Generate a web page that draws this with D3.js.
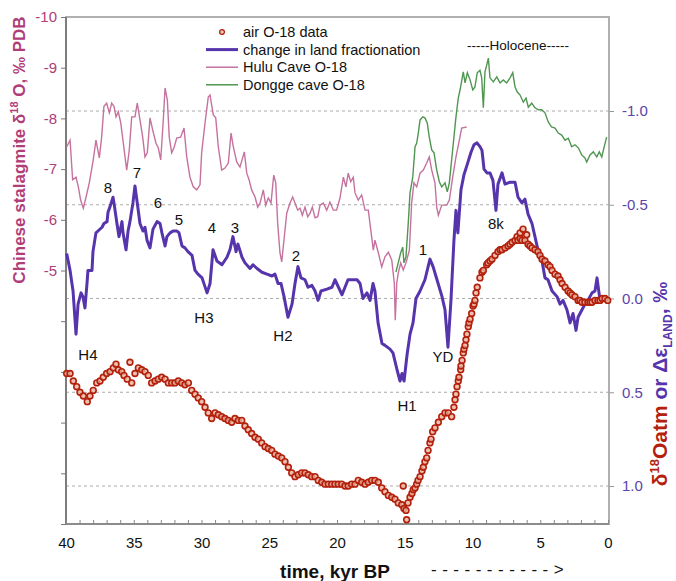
<!DOCTYPE html>
<html>
<head>
<meta charset="utf-8">
<script src="https://cdn.jsdelivr.net/npm/d3@7"></script>
<style>
  body { margin: 0; background: #fff; }
  text { font-family: "Liberation Sans", Arial, sans-serif; }
</style>
</head>
<body>
<div id="chart"></div>
<script>
/* [time kyr BP, delta epsilon land (right axis)] */
var landFrac = [
  [39.95,-0.24],[39.70,-0.15],[39.48,-0.04],[39.26,0.19],[39.11,0.03],[38.89,-0.03],[38.75,-0.01],[38.60,0.05],
  [38.45,-0.08],[38.38,-0.15],[38.08,-0.15],[38.01,-0.25],[37.79,-0.35],[37.64,-0.36],[37.34,-0.38],[37.20,-0.40],
  [36.97,-0.41],[36.90,-0.46],[36.75,-0.49],[36.53,-0.54],[36.46,-0.51],[36.24,-0.40],[36.09,-0.33],[35.87,-0.41],
  [35.79,-0.35],[35.57,-0.26],[35.42,-0.36],[35.28,-0.41],[35.06,-0.51],[34.91,-0.60],[34.76,-0.52],[34.54,-0.40],
  [34.32,-0.36],[34.17,-0.38],[34.02,-0.31],[33.80,-0.27],[33.58,-0.37],[33.43,-0.39],[33.28,-0.41],[33.06,-0.40],
  [32.92,-0.35],[32.69,-0.28],[32.55,-0.33],[32.32,-0.35],[32.10,-0.36],[31.81,-0.36],[31.66,-0.35],[31.44,-0.28],
  [31.22,-0.27],[31.00,-0.25],[30.70,-0.23],[30.48,-0.15],[30.26,-0.13],[29.96,-0.11],[29.59,-0.03],[29.37,-0.08],
  [29.15,-0.26],[28.86,-0.20],[28.49,-0.18],[28.12,-0.22],[27.90,-0.26],[27.68,-0.33],[27.45,-0.25],[27.31,-0.29],
  [27.01,-0.22],[26.79,-0.19],[26.42,-0.16],[26.20,-0.18],[25.90,-0.16],[25.54,-0.14],[25.17,-0.13],[24.80,-0.12],
  [24.58,-0.13],[24.35,-0.08],[24.13,-0.08],[23.91,-0.01],[23.62,0.10],[23.32,0.03],[23.10,-0.08],[22.88,-0.17],
  [22.66,-0.11],[22.36,-0.10],[22.14,-0.06],[21.85,-0.07],[21.62,-0.04],[21.40,0.01],[21.18,-0.04],[20.74,-0.05],
  [20.37,-0.06],[20.15,-0.10],[19.63,-0.02],[19.19,-0.10],[18.52,-0.10],[18.30,-0.08],[18.08,0.00],[17.79,-0.03],
  [17.56,0.01],[17.34,-0.08],[17.20,-0.04],[16.97,0.13],[16.68,0.24],[16.46,0.25],[16.09,0.27],[15.87,0.29],
  [15.57,0.38],[15.35,0.44],[15.20,0.40],[15.05,0.44],[14.83,0.30],[14.61,0.19],[14.39,0.13],[14.17,0.00],
  [13.87,-0.04],[13.51,-0.10],[13.14,-0.21],[12.91,-0.17],[12.62,-0.10],[12.25,-0.01],[12.03,0.06],[11.81,0.26],
  [11.59,0.01],[11.37,-0.31],[11.22,-0.47],[11.08,-0.35],[10.85,-0.58],[10.63,-0.66],[10.41,-0.71],[10.11,-0.78],
  [9.89,-0.82],[9.67,-0.83],[9.45,-0.81],[9.30,-0.79],[9.15,-0.69],[8.93,-0.67],[8.71,-0.67],[8.49,-0.63],
  [8.27,-0.47],[8.12,-0.61],[7.82,-0.67],[7.60,-0.61],[7.23,-0.62],[6.86,-0.62],[6.64,-0.54],[6.35,-0.51],
  [6.13,-0.53],[5.90,-0.45],[5.61,-0.40],[5.39,-0.33],[5.17,-0.26],[4.87,-0.20],[4.65,-0.11],[4.43,-0.10],
  [4.13,-0.04],[3.76,-0.01],[3.54,0.03],[3.32,0.01],[3.03,0.06],[2.80,0.13],[2.58,0.08],[2.36,0.17],
  [2.21,0.10],[1.92,0.06],[1.70,0.03],[1.48,0.01],[1.18,-0.03],[0.96,-0.04],[0.81,-0.11],[0.59,0.01],[0.37,0.01]
]

/* [time, Hulu cave d18O (left axis)] */
var hulu = [
  [39.95,-7.44],[39.70,-7.57],[39.51,-6.79],[39.26,-6.84],[39.09,-6.65],[38.92,-6.39],[38.72,-6.23],[38.52,-6.45],
  [38.28,-6.73],[37.99,-7.18],[37.79,-7.57],[37.54,-7.22],[37.37,-7.63],[37.20,-8.24],[37.00,-8.30],[36.80,-8.11],
  [36.63,-8.30],[36.46,-8.24],[36.31,-8.03],[36.14,-8.13],[35.96,-7.91],[35.77,-7.51],[35.52,-6.98],[35.33,-7.38],
  [35.15,-8.03],[34.91,-8.03],[34.74,-8.30],[34.54,-7.97],[34.34,-7.63],[34.17,-7.24],[34.00,-7.32],[33.80,-8.01],
  [33.60,-7.77],[33.36,-7.51],[33.19,-7.42],[33.01,-7.18],[32.82,-7.97],[32.69,-8.60],[32.52,-8.36],[32.38,-7.63],
  [32.20,-7.32],[32.03,-7.42],[31.83,-7.61],[31.54,-7.63],[31.29,-7.81],[31.09,-7.24],[30.85,-6.84],[30.61,-6.65],
  [30.35,-6.59],[30.11,-6.69],[29.99,-7.32],[29.74,-7.91],[29.50,-8.42],[29.37,-8.46],[29.13,-8.07],[28.95,-8.01],
  [28.76,-7.44],[28.51,-6.98],[28.27,-7.02],[28.02,-7.12],[27.82,-7.71],[27.65,-7.44],[27.40,-7.14],[27.16,-7.04],
  [26.84,-7.34],[26.66,-6.92],[26.49,-6.79],[26.30,-6.59],[26.05,-6.45],[25.85,-6.25],[25.68,-6.33],[25.44,-6.59],
  [25.26,-6.29],[25.07,-6.43],[24.87,-6.33],[24.67,-6.88],[24.52,-6.73],[24.38,-5.94],[24.21,-5.35],[24.08,-5.17],
  [23.89,-5.66],[23.71,-6.13],[23.47,-6.33],[23.27,-6.45],[23.10,-6.33],[22.90,-6.19],[22.73,-6.23],[22.56,-6.09],
  [22.36,-6.25],[22.16,-6.06],[21.99,-6.13],[21.82,-6.25],[21.62,-6.04],[21.42,-6.06],[21.25,-6.29],[21.01,-6.33],
  [20.76,-6.19],[20.52,-6.35],[20.27,-6.19],[20.03,-6.19],[19.78,-6.43],[19.53,-6.84],[19.34,-6.65],[19.17,-6.92],
  [18.99,-6.75],[18.80,-6.84],[18.67,-6.53],[18.43,-6.39],[18.18,-6.49],[17.93,-6.19],[17.69,-6.19],[17.44,-5.66],
  [17.32,-5.40],[17.20,-5.60],[16.95,-5.35],[16.70,-5.07],[16.46,-5.27],[16.21,-5.36],[15.96,-5.21],[15.77,-4.75],
  [15.70,-4.02],[15.59,-4.75],[15.48,-4.95],[15.30,-5.15],[15.11,-5.01],[14.91,-5.15],[14.66,-5.40],[14.49,-6.33],
  [14.32,-6.73],[14.12,-6.65],[13.87,-6.92],[13.63,-6.98],[13.38,-7.12],[13.19,-7.24],[13.01,-6.98],[12.77,-6.73],
  [12.64,-6.25],[12.52,-6.09],[12.27,-6.29],[11.90,-6.29],[11.71,-6.39],[11.46,-6.84],[11.22,-7.24],[10.97,-7.57],
  [10.80,-7.81],[10.43,-7.83]
]

/* [time, Dongge cave d18O (left axis)] */
var dongge = [
  [15.65,-4.97],[15.48,-5.15],[15.30,-5.35],[15.15,-5.46],[15.06,-5.15],[14.91,-5.27],[14.74,-5.94],[14.61,-6.53],
  [14.41,-6.84],[14.24,-7.44],[14.12,-7.51],[14.00,-7.71],[13.87,-7.97],[13.67,-8.03],[13.51,-8.01],[13.34,-7.91],
  [13.19,-7.63],[13.01,-7.38],[12.84,-7.32],[12.64,-6.98],[12.45,-6.75],[12.27,-6.65],[12.03,-6.73],[11.86,-6.55],
  [11.71,-6.73],[11.54,-7.18],[11.37,-7.63],[11.22,-8.03],[11.05,-8.40],[10.92,-8.56],[10.68,-8.92],[10.55,-8.70],
  [10.38,-8.90],[10.18,-8.76],[9.98,-8.56],[9.82,-8.62],[9.65,-8.90],[9.45,-8.95],[9.32,-8.80],[9.20,-8.21],
  [9.08,-8.92],[8.95,-9.05],[8.83,-9.19],[8.71,-8.80],[8.46,-8.72],[8.21,-8.82],[7.97,-8.70],[7.73,-8.76],
  [7.48,-8.70],[7.23,-8.80],[7.03,-8.90],[6.86,-8.62],[6.69,-8.52],[6.49,-8.46],[6.25,-8.32],[6.05,-8.40],
  [5.88,-8.22],[5.63,-8.30],[5.39,-8.21],[5.14,-8.17],[4.89,-8.17],[4.65,-8.11],[4.41,-7.93],[4.16,-7.83],
  [3.91,-7.81],[3.67,-7.71],[3.42,-7.67],[3.17,-7.57],[2.93,-7.61],[2.68,-7.44],[2.44,-7.48],[2.19,-7.42],
  [1.94,-7.28],[1.70,-7.22],[1.57,-7.14],[1.33,-7.28],[1.08,-7.34],[0.83,-7.24],[0.64,-7.34],[0.46,-7.24],
  [0.30,-7.42],[0.10,-7.63]
]

/* [time, d18O atm (right axis)] */
var airO18 = [
  [39.95,0.40],[39.70,0.40],[39.46,0.44],[39.21,0.47],[38.97,0.50],[38.72,0.52],[38.43,0.55],[38.23,0.52],
  [37.99,0.49],[37.73,0.45],[37.49,0.44],[37.25,0.42],[37.00,0.40],[36.75,0.39],[36.51,0.37],[36.31,0.35],
  [36.14,0.38],[35.89,0.39],[35.72,0.41],[35.48,0.43],[35.28,0.34],[35.15,0.45],[34.91,0.40],[34.66,0.37],
  [34.41,0.38],[34.17,0.39],[33.93,0.41],[33.68,0.45],[33.43,0.44],[33.19,0.43],[32.94,0.42],[32.69,0.43],
  [32.45,0.45],[32.20,0.45],[31.96,0.45],[31.71,0.44],[31.46,0.45],[31.22,0.46],[30.97,0.45],[30.72,0.49],
  [30.48,0.51],[30.24,0.53],[29.99,0.55],[29.74,0.58],[29.50,0.61],[29.25,0.64],[29.00,0.61],[28.76,0.62],
  [28.51,0.63],[28.27,0.64],[28.02,0.65],[27.77,0.66],[27.53,0.64],[27.28,0.65],[27.03,0.65],[26.79,0.68],
  [26.55,0.70],[26.30,0.72],[26.05,0.74],[25.81,0.75],[25.56,0.77],[25.31,0.79],[25.07,0.80],[24.82,0.81],
  [24.58,0.83],[24.33,0.84],[24.08,0.85],[23.84,0.87],[23.59,0.90],[23.34,0.93],[23.10,0.95],[22.86,0.94],
  [22.61,0.93],[22.36,0.93],[22.12,0.94],[21.87,0.95],[21.62,0.95],[21.38,0.97],[21.13,0.98],[20.89,0.99],
  [20.64,0.99],[20.39,0.99],[20.15,0.99],[19.90,0.99],[19.65,0.99],[19.41,1.00],[19.17,1.00],[18.92,0.99],
  [18.67,0.99],[18.43,0.97],[18.18,0.98],[17.93,0.99],[17.69,0.98],[17.44,0.97],[17.20,0.97],[16.95,0.98],
  [16.70,1.01],[16.46,1.03],[16.21,1.05],[15.96,1.06],[15.72,1.07],[15.48,1.09],[15.22,1.10],[15.11,1.00],
  [15.06,1.12],[14.91,1.13],[14.86,1.18],[14.76,1.09],[14.61,1.06],[14.47,1.04],[14.37,1.02],[14.24,1.01],
  [14.12,0.99],[14.02,0.97],[13.87,0.95],[13.73,0.92],[13.63,0.90],[13.51,0.87],[13.38,0.85],[13.28,0.81],
  [13.14,0.77],[13.06,0.75],[12.94,0.71],[12.77,0.69],[12.52,0.66],[12.27,0.63],[12.03,0.61],[11.79,0.61],
  [11.54,0.63],[11.37,0.58],[11.29,0.54],[11.22,0.51],[11.14,0.47],[11.05,0.44],[11.00,0.42],[10.87,0.38],
  [10.85,0.36],[10.77,0.33],[10.68,0.29],[10.63,0.27],[10.55,0.25],[10.48,0.22],[10.41,0.19],[10.31,0.15],
  [10.26,0.13],[10.18,0.11],[10.06,0.08],[9.96,0.04],[9.89,0.03],[9.82,0.01],[9.74,-0.03],[9.65,-0.06],
  [9.45,-0.11],[9.30,-0.14],[9.20,-0.15],[8.95,-0.18],[8.86,-0.19],[8.71,-0.20],[8.56,-0.21],[8.34,-0.23],
  [8.12,-0.25],[7.97,-0.26],[7.82,-0.26],[7.60,-0.27],[7.38,-0.28],[7.23,-0.29],[7.08,-0.30],[6.86,-0.31],
  [6.71,-0.33],[6.64,-0.31],[6.49,-0.32],[6.49,-0.35],[6.35,-0.31],[6.27,-0.37],[6.13,-0.31],[6.00,-0.34],
  [5.90,-0.29],[5.76,-0.28],[5.61,-0.27],[5.39,-0.26],[5.17,-0.25],[5.02,-0.23],[4.87,-0.21],[4.65,-0.20],
  [4.43,-0.18],[4.28,-0.17],[4.13,-0.15],[3.91,-0.13],[3.69,-0.12],[3.54,-0.10],[3.39,-0.08],[3.17,-0.06],
  [2.95,-0.04],[2.80,-0.03],[2.66,-0.02],[2.44,-0.01],[2.21,0.01],[2.07,0.01],[1.92,0.02],[1.70,0.02],
  [1.48,0.02],[1.33,0.02],[1.18,0.02],[0.96,0.01],[0.74,0.01],[0.59,0.01],[0.44,0.00],[0.22,0.00],[0.02,0.01]
]

var xTicks = [40, 35, 30, 25, 20, 15, 10, 5, 0]
var leftTicks = [0, -1, -2, -3, -4, -5, -6, -7, -8, -9, -10]
var rightTicks = [-1.0, -0.5, 0.0, 0.5, 1.0]

/* event labels: name, time, right-axis value */
var eventNames = ["H4", "8", "7", "6", "5", "4", "3", "H3", "2", "H2", "1", "YD", "H1", "8k"]
var eventTimes = [38.38, 36.90, 34.76, 33.21, 31.66, 29.23, 27.53, 29.82, 23.03, 23.99, 13.65, 12.18, 14.83, 8.27]
var eventVals = [0.30, -0.59, -0.67, -0.51, -0.42, -0.38, -0.38, 0.10, -0.23, 0.20, -0.26, 0.31, 0.57, -0.40]

var legendNames = ["air O-18 data", "change in land fractionation", "Hulu Cave O-18", "Dongge cave O-18"]

var width = 676, height = 581
var plot = {left: 66, right: 609, top: 17, bottom: 524}

var pinkText = "#b03c78", hulColor = "#c6729e", greenColor = "#4f9650",
    purple = "#5634ac", purpleText = "#5a45a8", red = "#b3200c"

/* Scales */
var x = d3.scaleLinear().domain([40, 0]).range([plot.left, 608])
var yL = d3.scaleLinear().domain([0, -10]).range([plot.bottom, plot.top])
var yR = d3.scaleLinear().domain([-1, 1]).range([111, 486])

var svg = d3.select("#chart").append("svg")
  .attr("width", width)
  .attr("height", height)
  .style("background", "#fff")

/* dashed gridlines at right-axis ticks */
svg.append("g").selectAll("line")
  .data(rightTicks).enter()
  .append("line")
  .attr("x1", plot.left).attr("x2", plot.right)
  .attr("y1", d => yR(d)).attr("y2", d => yR(d))
  .attr("stroke", "#aaa")
  .attr("stroke-width", 1)
  .attr("stroke-dasharray", "3,3")

/* frame */
svg.append("rect")
  .attr("x", plot.left).attr("y", plot.top)
  .attr("width", plot.right - plot.left).attr("height", plot.bottom - plot.top)
  .attr("fill", "none")
  .attr("stroke", "#b0b0b0")
  .attr("stroke-width", 2)
svg.append("line")
  .attr("x1", plot.left).attr("x2", plot.left)
  .attr("y1", plot.top).attr("y2", plot.bottom)
  .attr("stroke", "#707070").attr("stroke-width", 1.6)
svg.append("line")
  .attr("x1", plot.left).attr("x2", plot.right)
  .attr("y1", plot.bottom).attr("y2", plot.bottom)
  .attr("stroke", "#808080").attr("stroke-width", 1.6)

/* Axes */
var leftAxis = svg.append("g")
  .attr("transform", "translate(" + plot.left + ",0)")
  .call(d3.axisLeft(yL).tickValues(leftTicks).tickSize(5).tickPadding(4)
    .tickFormat(d => d <= -5 ? String(d) : ""))
leftAxis.select(".domain").remove()
leftAxis.selectAll("line").attr("stroke", "#777")
leftAxis.selectAll("text").attr("fill", pinkText).attr("font-size", "15px")
  .style("font-family", '"Liberation Sans", Arial, sans-serif')

var rightAxis = svg.append("g")
  .attr("transform", "translate(" + plot.right + ",0)")
  .call(d3.axisRight(yR).tickValues(rightTicks).tickSize(5).tickPadding(8)
    .tickFormat(d => d.toFixed(1)))
rightAxis.select(".domain").remove()
rightAxis.selectAll("line").attr("stroke", "#999")
rightAxis.selectAll("text").attr("fill", purpleText).attr("font-size", "15px")
  .style("font-family", '"Liberation Sans", Arial, sans-serif')

var minorAxis = svg.append("g")
  .attr("transform", "translate(0," + plot.bottom + ")")
  .call(d3.axisBottom(x).tickValues(d3.range(0, 41, 1)).tickSize(-4).tickFormat(""))
minorAxis.select(".domain").remove()
minorAxis.selectAll("line").attr("stroke", "#888")

var xAxis = svg.append("g")
  .attr("transform", "translate(0," + plot.bottom + ")")
  .call(d3.axisBottom(x).tickValues(xTicks).tickSize(0).tickPadding(13).tickFormat(d => String(d)))
xAxis.select(".domain").remove()
xAxis.selectAll("text").attr("fill", "#111").attr("font-size", "15px")
  .style("font-family", '"Liberation Sans", Arial, sans-serif')

/* Lines */
var lineL = d3.line().x(d => x(d[0])).y(d => yL(d[1]))
var lineR = d3.line().x(d => x(d[0])).y(d => yR(d[1]))

svg.append("path").datum(hulu)
  .attr("d", lineL)
  .attr("fill", "none").attr("stroke", hulColor).attr("stroke-width", 1.4)

svg.append("path").datum(dongge)
  .attr("d", lineL)
  .attr("fill", "none").attr("stroke", greenColor).attr("stroke-width", 1.4)

svg.append("path").datum(landFrac)
  .attr("d", lineR)
  .attr("fill", "none").attr("stroke", purple).attr("stroke-width", 3)
  .attr("stroke-linejoin", "round")

/* air O-18 circles */
svg.append("g").selectAll("circle")
  .data(airO18).enter()
  .append("circle")
  .attr("cx", d => x(d[0]))
  .attr("cy", d => yR(d[1]))
  .attr("r", 2.9)
  .attr("fill", "#e9b09c")
  .attr("fill-opacity", 0.8)
  .attr("stroke", red)
  .attr("stroke-width", 1.6)

/* event labels */
svg.append("g").selectAll("text")
  .data(eventNames).enter()
  .append("text")
  .attr("x", (d, i) => x(eventTimes[i]))
  .attr("y", (d, i) => yR(eventVals[i]))
  .attr("dy", "0.36em")
  .attr("text-anchor", "middle")
  .attr("font-size", "15px")
  .attr("fill", "#111")
  .text(d => d)

svg.append("text")
  .attr("x", x(6.64))
  .attr("y", yR(-1.35))
  .attr("dy", "0.36em")
  .attr("text-anchor", "middle")
  .attr("font-size", "13.5px")
  .attr("fill", "#111")
  .text("-----Holocene-----")

/* Legend */
var legend = svg.append("g").attr("transform", "translate(206,32)")
legendNames.forEach(function(name, i) {
  var g = legend.append("g").attr("transform", "translate(0," + (i * 17.6) + ")")
  if (i === 0) {
    g.append("circle").attr("cx", 16).attr("cy", 0).attr("r", 2.4)
      .attr("fill", "#f0c4b0").attr("stroke", red).attr("stroke-width", 1.3)
  } else {
    g.append("line").attr("x1", 0).attr("x2", 32).attr("y1", 0).attr("y2", 0)
      .attr("stroke", [null, purple, hulColor, greenColor][i])
      .attr("stroke-width", i === 1 ? 3 : 1.5)
  }
  g.append("text").attr("x", 37).attr("y", 0).attr("dy", "0.36em")
    .attr("font-size", "14.5px").attr("fill", "#111").text(name)
})

/* Axis titles */
var leftTitle = svg.append("text")
  .attr("transform", "translate(25,150) rotate(-90)")
  .attr("text-anchor", "middle")
  .attr("font-size", "17px")
  .attr("font-weight", "bold")
  .attr("fill", pinkText)
leftTitle.append("tspan").text("Chinese stalagmite δ")
leftTitle.append("tspan").attr("dy", -7).attr("font-size", "11px").text("18")
leftTitle.append("tspan").attr("dy", 7).text(" O, ‰ PDB")

var rightTitle = svg.append("text")
  .attr("transform", "translate(667,384) rotate(-90)")
  .attr("text-anchor", "middle")
  .attr("font-size", "21px")
  .attr("font-weight", "bold")
rightTitle.append("tspan").attr("fill", red).text("δ")
rightTitle.append("tspan").attr("fill", red).attr("dy", -8).attr("font-size", "13px").text("18")
rightTitle.append("tspan").attr("fill", red).attr("dy", 8).text("Oatm")
rightTitle.append("tspan").attr("fill", purple).text(" or Δε")
rightTitle.append("tspan").attr("fill", purple).attr("dy", 5).attr("font-size", "12px").text("LAND")
rightTitle.append("tspan").attr("fill", purple).attr("dy", -5).text(", ‰")

svg.append("text")
  .attr("x", 335).attr("y", 578)
  .attr("text-anchor", "middle")
  .attr("font-size", "19px")
  .attr("font-weight", "bold")
  .attr("fill", "#111")
  .text("time, kyr BP")

svg.append("text")
  .attr("x", 431).attr("y", 575)
  .attr("font-size", "17px")
  .attr("letter-spacing", "5.5px")
  .attr("fill", "#111")
  .text("----------->")
</script>
</body>
</html>
